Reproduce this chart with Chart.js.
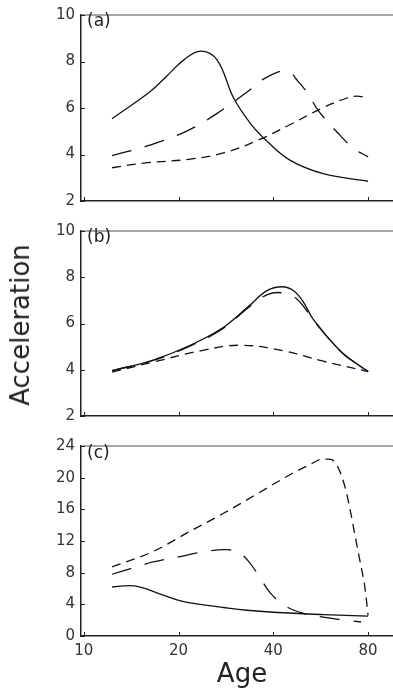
<!DOCTYPE html>
<html>
<head>
<meta charset="utf-8">
<script src="https://cdn.jsdelivr.net/npm/chart.js@4.4.1/dist/chart.umd.min.js"></script>
<style>
  body { margin: 0; background: #fff; width: 393px; height: 692px; position: relative; overflow: hidden; font-family: "DejaVu Sans", sans-serif; }
  canvas { position: absolute; left: 0; }
  .tag { position: absolute; left: 87px; font-size: 17px; color: #222; }
  #ylab { position: absolute; left: 20px; top: 325px; transform: translate(-50%, -50%) rotate(-90deg); font-size: 26px; color: #222; white-space: nowrap; }
  #xlab { position: absolute; left: 242px; top: 673px; transform: translate(-50%, -50%); font-size: 26px; color: #222; }
</style>
</head>
<body>
<canvas id="chartA" width="393" height="216" style="top:0"></canvas>
<canvas id="chartB" width="393" height="215" style="top:216px"></canvas>
<canvas id="chartC" width="393" height="261" style="top:431px"></canvas>
<div class="tag" style="top:10px">(a)</div>
<div class="tag" style="top:226px">(b)</div>
<div class="tag" style="top:442px">(c)</div>
<div id="ylab">Acceleration</div>
<div id="xlab">Age</div>

<script>
// ticks
const xTicks = [10, 20, 40, 80];
const yTicksAB = [2, 4, 6, 8, 10];
const yTicksC = [0, 4, 8, 12, 16, 20, 24];

// panel (a)
const aSolidAge = [12.3, 16.3, 18.4, 20.8, 23.5, 26.5, 29.9, 34, 38.3, 45.3, 57.6, 80];
const aSolidVal = [5.54, 6.72, 7.39, 8.07, 8.45, 8.07, 6.44, 5.3, 4.56, 3.75, 3.18, 2.85];
const aLongAge = [12.3, 16.2, 21.4, 26.6, 33.1, 37.2, 42.6, 45.3, 47.6, 51.7, 55.5, 63.7, 71.7, 80];
const aLongVal = [3.95, 4.4, 5.03, 5.78, 6.7, 7.24, 7.6, 7.53, 7.2, 6.59, 5.9, 4.97, 4.28, 3.9];
const aShortAge = [12.3, 15.5, 21.8, 27.8, 35.6, 45.3, 57.6, 68.6, 73.7, 80];
const aShortVal = [3.43, 3.63, 3.8, 4.07, 4.6, 5.29, 6.02, 6.43, 6.51, 6.43];

// panel (b)
const bSolidAge = [12.3, 16.6, 21.8, 27.8, 33.3, 38.3, 42.6, 46.3, 49.8, 53.2, 59.3, 66.7, 71.7, 80];
const bSolidVal = [3.96, 4.42, 5.06, 5.84, 6.73, 7.43, 7.59, 7.43, 6.94, 6.24, 5.43, 4.69, 4.37, 3.92];
const bLongAge = [12.3, 16.6, 21.8, 27.8, 33.3, 38.3, 43, 47.6, 53.2, 59.3, 66.7, 80];
const bLongVal = [3.96, 4.4, 5.03, 5.8, 6.68, 7.25, 7.32, 7.05, 6.22, 5.43, 4.69, 3.92];
const bShortAge = [12.3, 16.6, 23.5, 31.4, 43, 57.6, 80];
const bShortVal = [3.9, 4.33, 4.82, 5.06, 4.82, 4.37, 3.92];
const bBlueAge = [59.3, 66.7, 71.7, 80];
const bBlueVal = [5.43, 4.69, 4.37, 3.92];

// panel (c)
const cSolidAge = [12.3, 14.5, 17.5, 20.3, 23.5, 27.8, 33, 40, 57.6, 80];
const cSolidVal = [6.19, 6.33, 5.3, 4.45, 4.0, 3.6, 3.25, 3.0, 2.7, 2.5];
const cLongAge = [12.3, 14.1, 16.6, 20, 24.4, 28.6, 31.4, 33.8, 36.3, 39.1, 43.7, 49.8, 57.6, 66, 76];
const cLongVal = [7.8, 8.5, 9.35, 10.0, 10.67, 10.9, 10.4, 9.15, 7.38, 5.45, 3.8, 2.87, 2.38, 2.05, 1.77];
const cShortAge = [12.3, 16.6, 21.8, 27.8, 35.6, 45.3, 52, 57.5, 61, 64.3, 67.6, 70.2, 72.7, 75.5, 78.2, 80];
const cShortVal = [8.74, 10.67, 13.25, 15.5, 17.97, 20.4, 21.6, 22.35, 22.3, 21.25, 18.8, 15.9, 12.7, 9.35, 6.07, 2.6];

const tickFont = { family: 'DejaVu Sans', size: 15 };

function pts(ages, vals) {
  return ages.map((a, i) => ({ x: a, y: vals[i] }));
}

function line(ages, vals, dash, color, mono) {
  const ds = {
    data: pts(ages, vals),
    borderColor: color || '#111',
    borderWidth: 1.3,
    borderDash: dash,
    pointRadius: 0,
    fill: false,
    tension: 0.4
  };
  if (mono) ds.cubicInterpolationMode = 'monotone';
  return ds;
}

// top grey line + inward tick marks
const framePlugin = {
  id: 'frame',
  afterDatasetsDraw(chart) {
    const { ctx, chartArea: a, scales } = chart;
    ctx.save();
    ctx.strokeStyle = '#888';
    ctx.lineWidth = 1.5;
    ctx.beginPath();
    ctx.moveTo(a.left, a.top);
    ctx.lineTo(a.right, a.top);
    ctx.stroke();
    ctx.strokeStyle = '#222';
    ctx.lineWidth = 1;
    ctx.beginPath();
    scales.x.ticks.forEach(t => {
      const px = Math.round(scales.x.getPixelForValue(t.value)) + 0.5;
      ctx.moveTo(px, a.bottom);
      ctx.lineTo(px, a.bottom - 4);
    });
    scales.y.ticks.forEach(t => {
      const py = Math.round(scales.y.getPixelForValue(t.value)) + 0.5;
      ctx.moveTo(a.left, py);
      ctx.lineTo(a.left + 4, py);
    });
    ctx.stroke();
    ctx.restore();
  }
};

function makeChart(id, datasets, yMin, yMax, yTicks, withLabels, padTop, xHeight) {
  return new Chart(document.getElementById(id), {
    type: 'line',
    data: { datasets: datasets },
    plugins: [framePlugin],
    options: {
      responsive: false,
      animation: false,
      devicePixelRatio: 1,
      layout: { padding: { top: padTop, left: 0, right: 0, bottom: 0 } },
      plugins: { legend: { display: false }, tooltip: { enabled: false } },
      scales: {
        x: {
          type: 'logarithmic',
          min: 9.8,
          max: 96,
          afterBuildTicks: s => { s.ticks = xTicks.map(v => ({ value: v })); },
          afterFit: s => { s.height = xHeight; },
          grid: { display: false, drawTicks: false },
          border: { display: true, color: '#222', width: 1.5 },
          ticks: {
            display: withLabels,
            color: '#333',
            font: tickFont,
            padding: 6,
            maxRotation: 0,
            callback: v => String(v)
          }
        },
        y: {
          min: yMin,
          max: yMax,
          afterBuildTicks: s => { s.ticks = yTicks.map(v => ({ value: v })); },
          afterFit: s => { s.width = 81; },
          grid: { display: false, drawTicks: false },
          border: { display: true, color: '#222', width: 1.5 },
          ticks: { color: '#333', font: tickFont, padding: 6 }
        }
      }
    }
  });
}

makeChart('chartA', [
  line(aSolidAge, aSolidVal, []),
  line(aLongAge, aLongVal, [20, 14]),
  line(aShortAge, aShortVal, [9, 6])
], 2, 10, yTicksAB, false, 9, 10);

makeChart('chartB', [
  line(bSolidAge, bSolidVal, []),
  line(bBlueAge, bBlueVal, [], '#3a3aa8'),
  line(bLongAge, bLongVal, [20, 14]),
  line(bShortAge, bShortVal, [9, 6])
], 2, 10, yTicksAB, false, 9, 10);

makeChart('chartC', [
  line(cSolidAge, cSolidVal, []),
  line(cLongAge, cLongVal, [20, 14]),
  line(cShortAge, cShortVal, [9, 6], null, true)
], 0, 24, yTicksC, true, 10, 56);
</script>
</body>
</html>
